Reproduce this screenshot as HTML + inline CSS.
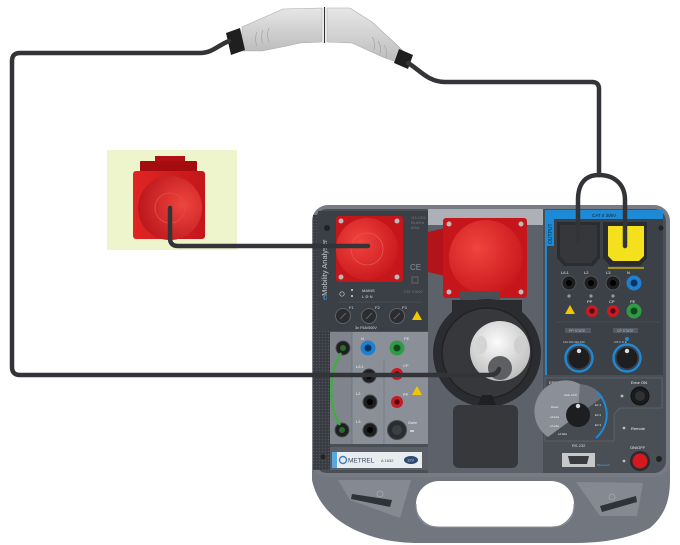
<!DOCTYPE html>
<html><head><meta charset="utf-8">
<style>
html,body{margin:0;padding:0;background:#fff}
svg{display:block}
text{font-family:"Liberation Sans",sans-serif}
</style></head>
<body>
<svg width="680" height="545" viewBox="0 0 680 545" xmlns="http://www.w3.org/2000/svg">
<defs>
<radialGradient id="rs" cx="0.38" cy="0.38" r="0.7"><stop offset="0" stop-color="#f0443e"/><stop offset="1" stop-color="#c8171c"/></radialGradient>
<radialGradient id="ls" cx="0.7" cy="0.45" r="0.75"><stop offset="0" stop-color="#f0453f"/><stop offset="1" stop-color="#b8141a"/></radialGradient>
<radialGradient id="wh" cx="0.45" cy="0.35" r="0.7"><stop offset="0" stop-color="#fbfbfb"/><stop offset="1" stop-color="#b9b9b9"/></radialGradient>
<linearGradient id="plug" x1="0" y1="0" x2="0" y2="1"><stop offset="0" stop-color="#e6e6e6"/><stop offset="1" stop-color="#bdbdbd"/></linearGradient>
<linearGradient id="sq" x1="0" y1="0" x2="1" y2="0"><stop offset="0" stop-color="#e02522"/><stop offset="1" stop-color="#c4161a"/></linearGradient>
<pattern id="perf" width="3" height="3" patternUnits="userSpaceOnUse"><rect width="3" height="3" fill="#383c42"/><circle cx="1.5" cy="1.5" r="0.7" fill="#50555c"/></pattern>
</defs>
<rect width="680" height="545" fill="#fff"/>

<!-- standalone red socket -->
<rect x="107" y="150" width="130" height="100" fill="#eef5cd"/>
<rect x="155" y="156" width="30" height="8" fill="#b01015"/>
<rect x="140" y="161" width="57" height="15" rx="1" fill="#a50c10"/>
<rect x="133" y="171" width="72" height="68" rx="3" fill="url(#sq)"/>
<circle cx="170" cy="208" r="32" fill="url(#ls)"/>
<circle cx="170" cy="208" r="15" fill="none" stroke="#e04a44" stroke-width="1"/>

<!-- top connector -->
<polygon points="242,27 283,9 322,8 322,42 300,43 287,46 262,51 242,51" fill="url(#plug)" stroke="#a9a9a9" stroke-width="0.6"/>
<polygon points="327,8 350,8 372,22 397,45 404,52 400,63 385,58 352,43 327,42" fill="url(#plug)" stroke="#a9a9a9" stroke-width="0.6"/>
<line x1="324.5" y1="7" x2="324.5" y2="43" stroke="#333" stroke-width="1.2"/>
<polygon points="226,33 240,28 245,50 231,55" fill="#1f1f1f"/>
<polygon points="399,49 413,55 408,69 394,63" fill="#1f1f1f"/>
<path d="M257,32 q-3,7 0,14 M263,30 q-3,7 0,14 M269,28 q-3,7 0,14" fill="none" stroke="#a8a8a8" stroke-width="0.8"/>
<path d="M372,37 q4,6 2,13 M378,41 q4,6 2,13 M384,45 q4,6 2,13" fill="none" stroke="#a8a8a8" stroke-width="0.8"/>

<!-- device lower shell -->
<path d="M312,455 L312,480 C316,500 330,518 355,530 C375,539 395,543 420,543 L575,543 C605,543 630,538 650,528 C665,515 670,500 670,480 L670,455 Z" fill="#72777f"/>
<rect x="416" y="481" width="158" height="46" rx="23" fill="#fff"/>
<path d="M416,504 C416,520 425,527 439,527 L551,527 C565,527 574,520 574,504" fill="none" stroke="#8d929a" stroke-width="1"/>
<polygon points="338,480 411,480 400,518 350,500" fill="#858a92"/>
<polygon points="352,494 392,500 390,507 351,499" fill="#2f3236"/>
<circle cx="380" cy="494" r="3" fill="none" stroke="#a5a9af" stroke-width="0.8"/>
<polygon points="576,482 643,483 637,516 600,516" fill="#858a92"/>
<polygon points="600,506 636,496 637,502 602,512" fill="#2f3236"/>
<circle cx="612" cy="497" r="3" fill="none" stroke="#a5a9af" stroke-width="0.8"/>

<!-- device main body -->
<rect x="312" y="205" width="358" height="272" rx="16" fill="#767b84"/>
<rect x="315" y="209" width="351" height="264" rx="12" fill="#4a4f56"/>
<rect x="313" y="215" width="17" height="255" fill="url(#perf)"/>

<!-- top-left panel -->
<rect x="318" y="211" width="110" height="120" fill="#3b3f46"/>
<circle cx="327" cy="228" r="3" fill="#222"/>
<rect x="336" y="216" width="67" height="66" rx="3" fill="#c5161c"/>
<circle cx="341" cy="221" r="2.5" fill="#bbb"/><circle cx="397" cy="221" r="2.5" fill="#bbb"/>
<circle cx="341" cy="277" r="2.5" fill="#bbb"/><circle cx="397" cy="277" r="2.5" fill="#bbb"/>
<circle cx="367" cy="249" r="31" fill="url(#rs)"/>
<circle cx="367" cy="249" r="16" fill="none" stroke="#e85550" stroke-width="0.8"/>
<rect x="398" y="240" width="5" height="10" fill="#c5161c"/>
<text x="411" y="219" font-size="3.5" fill="#777">115-230V</text>
<text x="411" y="224" font-size="3.5" fill="#777">50-60Hz</text>
<text x="411" y="229" font-size="3.5" fill="#777">60VA</text>
<text x="410" y="270" font-size="8" fill="#8a8f97">CE</text>
<rect x="412" y="277" width="6" height="6" fill="none" stroke="#777" stroke-width="0.7"/>
<text x="404" y="293" font-size="3.5" fill="#777">CAT II 300V</text>
<circle cx="342" cy="294" r="2.2" fill="none" stroke="#ccc" stroke-width="0.7"/>
<circle cx="352" cy="290" r="1" fill="#ddd"/><circle cx="352" cy="296" r="1" fill="#ddd"/>
<text x="362" y="292" font-size="4" fill="#ddd">MAINS</text>
<text x="362" y="298" font-size="4" fill="#ddd">L ⊘ N</text>
<line x1="338" y1="302" x2="422" y2="302" stroke="#555a61" stroke-width="0.6"/>
<text x="349" y="309" font-size="4" fill="#ddd">F1</text>
<text x="375" y="309" font-size="4" fill="#ddd">F2</text>
<text x="402" y="309" font-size="4" fill="#ddd">F3</text>
<circle cx="343" cy="316" r="7.5" fill="#2a2c30" stroke="#606469" stroke-width="1"/>
<circle cx="369" cy="316" r="7.5" fill="#2a2c30" stroke="#606469" stroke-width="1"/>
<circle cx="397" cy="316" r="7.5" fill="#2a2c30" stroke="#606469" stroke-width="1"/>
<line x1="340" y1="319" x2="346" y2="313" stroke="#666" stroke-width="1"/>
<line x1="366" y1="319" x2="372" y2="313" stroke="#666" stroke-width="1"/>
<line x1="394" y1="319" x2="400" y2="313" stroke="#666" stroke-width="1"/>
<polygon points="417,311 422,320 412,320" fill="#f2c600"/>
<text x="355" y="329" font-size="3.8" fill="#ddd">3x F5A/500V</text>
<text transform="translate(327,300) rotate(-90)" font-size="7.5" fill="#c8cbd0"><tspan fill="#3a9be0">e</tspan>Mobility Analyser</text>

<!-- lower-left section -->
<rect x="330" y="332" width="98" height="112" fill="#8b9098"/>
<rect x="330" y="332" width="22" height="112" fill="#80858d"/>
<line x1="352" y1="332" x2="352" y2="444" stroke="#6c7179" stroke-width="0.8"/>
<line x1="384" y1="360" x2="384" y2="444" stroke="#6c7179" stroke-width="0.6"/>
<text x="361" y="340" font-size="4" fill="#eee">N</text>
<text x="404" y="340" font-size="4" fill="#eee">PE</text>
<text x="356" y="368" font-size="4" fill="#eee">L/L1</text>
<text x="403" y="367" font-size="4" fill="#eee">CP</text>
<text x="356" y="395" font-size="4" fill="#eee">L2</text>
<text x="403" y="396" font-size="4" fill="#eee">PP</text>
<text x="356" y="423" font-size="4" fill="#eee">L3</text>
<polygon points="417,386 422,395 412,395" fill="#f2c600"/>
<circle cx="343" cy="348" r="7" fill="#1d1e20" stroke="#4a4d52"/>
<circle cx="368" cy="348" r="7.5" fill="#1f7fd0"/><circle cx="368" cy="348" r="3.5" fill="#0b3560"/>
<circle cx="397" cy="348" r="7.5" fill="#2f9b46"/><circle cx="397" cy="348" r="3.5" fill="#0f4a1c"/>
<circle cx="369" cy="376" r="7" fill="#1d1e20" stroke="#4a4d52"/><circle cx="369" cy="376" r="3" fill="#000"/>
<circle cx="397" cy="374" r="6" fill="#c81c24"/><circle cx="397" cy="374" r="2.7" fill="#5a0a0e"/>
<circle cx="370" cy="402" r="7" fill="#1d1e20" stroke="#4a4d52"/><circle cx="370" cy="402" r="3" fill="#000"/>
<circle cx="397" cy="402" r="6" fill="#c81c24"/><circle cx="397" cy="402" r="2.7" fill="#5a0a0e"/>
<circle cx="370" cy="430" r="7" fill="#1d1e20" stroke="#4a4d52"/><circle cx="370" cy="430" r="3" fill="#000"/>
<circle cx="397" cy="430" r="9.5" fill="#2a2c30" stroke="#4a4d52"/><circle cx="397" cy="430" r="5" fill="#3c3f44"/>
<text x="408" y="424" font-size="3.5" fill="#eee">Ωwire</text>
<rect x="410" y="430" width="4" height="2" fill="#ccc"/>
<circle cx="342" cy="430" r="7" fill="#1d1e20" stroke="#4a4d52"/>
<path d="M341,353 C328,372 328,408 340,425" fill="none" stroke="#3fae3f" stroke-width="2.4"/>
<circle cx="343" cy="348" r="3" fill="#2d6b2d"/><circle cx="342" cy="430" r="3" fill="#2d6b2d"/>

<!-- metrel label -->
<rect x="330" y="447" width="98" height="23" fill="#5a5f67"/>
<rect x="332" y="452" width="90" height="16" fill="#e9ecef"/>
<rect x="332" y="452" width="5" height="16" fill="#5aa7dc"/>
<circle cx="343" cy="460" r="3.5" fill="none" stroke="#3a7fc0" stroke-width="1.4"/>
<text x="348" y="462.5" font-size="6.5" fill="#3c4a5c" font-family="Liberation Serif">METREL</text>
<text x="381" y="462" font-size="4" fill="#444">A 1632</text>
<ellipse cx="411" cy="460" rx="7" ry="4" fill="#2c4870"/>
<text x="407" y="461.5" font-size="4" fill="#ddd">12V</text>
<circle cx="323" cy="457" r="2.5" fill="#222"/>

<!-- middle column -->
<rect x="428" y="209" width="115" height="264" fill="#5d626a"/>
<rect x="428" y="209" width="115" height="16" fill="#adb1b7"/>
<polygon points="428,232 445,228 445,276 428,272" fill="#b3141a"/>
<rect x="443" y="218" width="84" height="80" rx="3" fill="#c5161c"/>
<circle cx="449" cy="224" r="2.5" fill="#bbb"/><circle cx="521" cy="224" r="2.5" fill="#bbb"/>
<circle cx="449" cy="292" r="2.5" fill="#bbb"/><circle cx="521" cy="292" r="2.5" fill="#bbb"/>
<circle cx="486" cy="257" r="37" fill="url(#rs)"/>
<path d="M460,291 L500,291 L500,300 L460,300 Z" fill="#4a4f56"/>
<!-- type 2 -->
<circle cx="487" cy="353" r="54" fill="#2b2c2f"/>
<path d="M452,312 L452,300 L522,300 L522,312 Z" fill="#2b2c2f"/>
<circle cx="487" cy="353" r="45" fill="#37383c" stroke="#222" stroke-width="1.5"/>
<path d="M478,405 L496,405 L492,395 L482,395 Z" fill="#1f2023"/>
<circle cx="500" cy="351" r="30" fill="url(#wh)"/>
<ellipse cx="481" cy="345" rx="6" ry="9" fill="#d4d4d4"/>
<ellipse cx="520" cy="345" rx="6" ry="9" fill="#cfcfcf"/>
<circle cx="500" cy="368" r="12" fill="#5e5f62"/>
<rect x="453" y="405" width="65" height="63" rx="6" fill="#37383b"/>

<!-- right panel -->
<rect x="545" y="211" width="118" height="164" fill="#3c4047"/>
<rect x="545" y="210" width="118" height="9" fill="#1e8ad6"/>
<text x="592" y="217" font-size="4.5" fill="#123">CAT II 300V</text>
<rect x="545" y="210" width="9" height="36" fill="#1e8ad6"/>
<line x1="546" y1="246" x2="546" y2="375" stroke="#1e8ad6" stroke-width="2"/>
<text transform="translate(552,244) rotate(-90)" font-size="5" fill="#0c2a44">OUTPUT</text>
<circle cx="661" cy="228" r="2.5" fill="#222"/>
<path d="M557,222 L600,222 L600,258 L593,266 L564,266 L557,258 Z" fill="#2a2c2f"/>
<path d="M560,225 L597,225 L597,256 L591,263 L566,263 L560,256 Z" fill="#35373a"/>
<path d="M603,222 L647,222 L647,258 L640,266 L610,266 L603,258 Z" fill="#2a2c2f"/>
<path d="M608,226 L644,226 L644,256 L639,261 L613,261 L608,256 Z" fill="#f4e01c"/>
<line x1="608" y1="268" x2="644" y2="268" stroke="#e3c400" stroke-width="1.2"/>
<text x="561" y="274" font-size="4" fill="#eee">L/L1</text>
<text x="584" y="274" font-size="4" fill="#eee">L2</text>
<text x="606" y="274" font-size="4" fill="#eee">L3</text>
<text x="627" y="274" font-size="4" fill="#eee">N</text>
<circle cx="569" cy="283" r="7" fill="#1d1e20" stroke="#555" /><circle cx="569" cy="283" r="3" fill="#000"/>
<circle cx="591" cy="283" r="7" fill="#1d1e20" stroke="#555" /><circle cx="591" cy="283" r="3" fill="#000"/>
<circle cx="613" cy="283" r="7" fill="#1d1e20" stroke="#555" /><circle cx="613" cy="283" r="3" fill="#000"/>
<circle cx="634" cy="283" r="7.5" fill="#1f7fd0"/><circle cx="634" cy="283" r="3.5" fill="#0b3560"/>
<circle cx="569" cy="296" r="1.6" fill="#999"/><circle cx="591" cy="296" r="1.6" fill="#999"/><circle cx="613" cy="296" r="1.6" fill="#999"/>
<text x="587" y="303" font-size="4" fill="#eee">PP</text>
<text x="609" y="303" font-size="4" fill="#eee">CP</text>
<text x="630" y="303" font-size="4" fill="#eee">PE</text>
<polygon points="570,305 575,314 565,314" fill="#f2c600"/>
<circle cx="592" cy="311" r="6" fill="#c81c24"/><circle cx="592" cy="311" r="2.7" fill="#5a0a0e"/>
<circle cx="613" cy="311" r="6" fill="#c81c24"/><circle cx="613" cy="311" r="2.7" fill="#5a0a0e"/>
<circle cx="634" cy="311" r="7.5" fill="#2f9b46"/><circle cx="634" cy="311" r="3.5" fill="#0f4a1c"/>
<line x1="556" y1="322" x2="660" y2="322" stroke="#50555c" stroke-width="0.6"/>
<rect x="565" y="328" width="26" height="5" fill="#555a62"/>
<text x="569" y="332" font-size="3.5" fill="#8ec4ee">PP STATE</text>
<rect x="613" y="328" width="25" height="5" fill="#555a62"/>
<text x="617" y="332" font-size="3.5" fill="#8ec4ee">CP STATE</text>
<text x="563" y="343" font-size="2.8" fill="#ccc">13A 20A 32A 63A</text>
<text x="614" y="343" font-size="2.8" fill="#ccc">A B C D E</text>
<circle cx="579" cy="358" r="13.5" fill="none" stroke="#1e8ad6" stroke-width="2.4"/>
<circle cx="579" cy="358" r="10.5" fill="#1d1e20"/>
<circle cx="579" cy="351" r="2.2" fill="#ddd"/>
<circle cx="627" cy="358" r="13.5" fill="none" stroke="#1e8ad6" stroke-width="2.4"/>
<circle cx="627" cy="358" r="10.5" fill="#1d1e20"/>
<circle cx="627" cy="351" r="2.2" fill="#ddd"/>
<circle cx="627" cy="339" r="2" fill="#1e8ad6"/>

<!-- errors area -->
<path d="M545,378 L662,378 L662,408 L620,408 L614,414 L614,441 L545,441 Z" fill="#464a51" stroke="#62676f" stroke-width="0.8"/>
<text x="549" y="384" font-size="4" fill="#ddd">ERRORS</text>
<path d="M578,415 L548,437 A31,31 0 0 1 580,384 Z" fill="#8b9098"/>
<path d="M578,415 L580,384 A31,31 0 0 1 603,397 Z" fill="#6a6f77"/>
<path d="M597,392 A31,31 0 0 1 596,438" fill="none" stroke="#1e8ad6" stroke-width="2"/>
<text x="564" y="396" font-size="2.8" fill="#eee">Hbar  L/CP</text>
<text x="551" y="408" font-size="2.8" fill="#eee">Reset</text>
<text x="550" y="418" font-size="2.8" fill="#eee">L/L1dw</text>
<text x="550" y="427" font-size="2.8" fill="#eee">L/L2dw</text>
<text x="558" y="435" font-size="2.8" fill="#eee">L/L3dw</text>
<text x="595" y="406" font-size="2.8" fill="#eee">Err 1</text>
<text x="595" y="416" font-size="2.8" fill="#eee">Err 2</text>
<text x="595" y="426" font-size="2.8" fill="#eee">Err 3</text>
<circle cx="578" cy="415" r="12" fill="#1d1e20"/>
<circle cx="578" cy="406" r="2.2" fill="#ddd"/>
<text x="631" y="384" font-size="4" fill="#eee">Error ON</text>
<circle cx="622" cy="396" r="1.4" fill="#bbb"/>
<circle cx="640" cy="396" r="9" fill="#1a1b1d" stroke="#111"/>
<circle cx="640" cy="396" r="5" fill="#2f3134"/>
<circle cx="624" cy="428" r="1.4" fill="#bbb"/>
<text x="631" y="430" font-size="4" fill="#eee">Remote</text>
<text x="572" y="447" font-size="4" fill="#ddd">RS 232</text>
<rect x="562" y="453" width="33" height="14" fill="#c8c8c8"/>
<path d="M568,456 L589,456 L587,464 L570,464 Z" fill="#3a3b3e"/>
<text x="597" y="466" font-size="3" fill="#4aa2e6">Bluetooth</text>
<text x="630" y="449" font-size="4" fill="#eee">ON/OFF</text>
<circle cx="624" cy="461" r="1.4" fill="#bbb"/>
<circle cx="640" cy="461" r="10" fill="#2a2b2e"/>
<circle cx="640" cy="461" r="7.5" fill="#d3181e"/>
<circle cx="659" cy="459" r="3" fill="#222"/>

<!-- cables -->
<g fill="none" stroke="#333437" stroke-width="4.5" stroke-linecap="round" stroke-linejoin="round">
<path d="M229,41 C217,46 212,53 200,53 L20,53 Q12,53 12,61 L12,367 Q12,375 20,375 L490,375 Q497,375 499,369"/>
<path d="M408,63 C420,70 428,82 445,82 L592,82 Q599,82 599,89 L599,175"/>
<path d="M599,175 C585,175 578,184 578,200 L578,241"/>
<path d="M599,175 C614,175 625,184 625,200 L625,246"/>
<path d="M170,208 L170,238 Q170,246 178,246 L368,246"/>
</g>
</svg>
</body></html>
